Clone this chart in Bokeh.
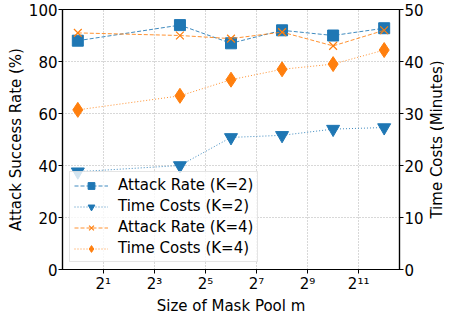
import math
from bokeh.plotting import figure
from bokeh.models import Range1d, LinearAxis, FixedTicker, Legend, LegendItem, Label
from bokeh.embed import file_html
from bokeh.resources import INLINE

# ---- data ----
pool_sizes = [1, 16, 64, 256, 1024, 4096]
attack_k2 = [88.0, 94.0, 87.0, 92.0, 90.0, 92.8]
time_k2 = [18.8, 20.0, 25.4, 25.8, 27.0, 27.3]
attack_k4 = [91.0, 90.0, 88.8, 91.3, 86.0, 92.0]
time_k4 = [30.7, 33.4, 36.5, 38.5, 39.5, 42.2]
x_ticks = [2, 8, 32, 128, 512, 2048]
x_tick_labels = ["2¹", "2³", "2⁵", "2⁷", "2⁹", "2¹¹"]
left_ticks = [0, 20, 40, 60, 80, 100]
right_ticks = [0, 10, 20, 30, 40, 50]
right_title = "Time Costs (Minutes)"

BLUE = "#1f77b4"
ORANGE = "#ff7f0e"
FONT = "DejaVu Sans"
FS = "15px"

FW, FH = 337, 260
p = figure(frame_width=FW, frame_height=FH, x_axis_type="log",
           x_range=Range1d(2 ** -0.6, 2 ** 12.6), y_range=Range1d(0, 100),
           output_backend="svg", toolbar_location=None,
           min_border_left=62, min_border_right=42, min_border_top=9, min_border_bottom=48)
p.extra_y_ranges = {"time": Range1d(0, 50)}

p.outline_line_color = "black"
p.outline_line_width = 1.2
p.background_fill_color = "white"
p.border_fill_color = "white"

# axes
p.xaxis.ticker = FixedTicker(ticks=x_ticks, minor_ticks=[])
p.xaxis.major_label_overrides = {t: l for t, l in zip(x_ticks, x_tick_labels)}
p.yaxis.ticker = FixedTicker(ticks=left_ticks, minor_ticks=[])
right_axis = LinearAxis(y_range_name="time", ticker=FixedTicker(ticks=right_ticks, minor_ticks=[]))
p.add_layout(right_axis, "right")

p.xaxis.axis_label = "Size of Mask Pool m"
p.yaxis[0].axis_label = "Attack Success Rate (%)"

for ax in [p.xaxis[0], p.yaxis[0], right_axis]:
    ax.axis_line_color = "black"
    ax.axis_line_width = 1.2
    ax.major_tick_line_color = "black"
    ax.major_tick_out = 4
    ax.major_tick_in = 0
    ax.minor_tick_line_color = None
    ax.major_label_text_font = FONT
    ax.major_label_text_font_size = FS
    ax.major_label_text_color = "black"
    ax.axis_label_text_font = FONT
    ax.axis_label_text_font_size = FS
    ax.axis_label_text_font_style = "normal"
    ax.axis_label_text_color = "black"
    ax.major_label_standoff = 1
    ax.axis_label_standoff = 1

# right axis title, reading bottom-to-top like the reference (placed in a side panel)
p.add_layout(Label(x=1, y=FH / 2, x_units="screen", y_units="screen",
                   text=right_title, angle=math.pi / 2, text_align="center",
                   text_baseline="top", text_font=FONT, text_font_size=FS,
                   text_color="black"), "right")

p.xgrid.ticker = FixedTicker(ticks=x_ticks)
p.ygrid.ticker = FixedTicker(ticks=left_ticks)
for g in [p.xgrid[0], p.ygrid[0]]:
    g.grid_line_color = "#b0b0b0"
    g.grid_line_dash = "1 2"
    g.grid_line_width = 1

# series
l1 = p.line(pool_sizes, attack_k2, color=BLUE, line_dash="4 2", line_width=1, line_alpha=0.85)
s1 = p.scatter(pool_sizes, attack_k2, marker="square", size=11, color=BLUE)
l2 = p.line(pool_sizes, time_k2, color=BLUE, line_dash="1 2", line_width=1, line_alpha=0.85, y_range_name="time")
s2 = p.scatter(pool_sizes, time_k2, marker="inverted_triangle", size=13, color=BLUE, y_range_name="time")
l3 = p.line(pool_sizes, attack_k4, color=ORANGE, line_dash="4 2", line_width=1, line_alpha=0.85)
s3 = p.scatter(pool_sizes, attack_k4, marker="x", size=11, line_color=ORANGE, line_width=1.2)
l4 = p.line(pool_sizes, time_k4, color=ORANGE, line_dash="1 2", line_width=1, line_alpha=0.85, y_range_name="time")
s4 = p.scatter(pool_sizes, time_k4, marker="diamond", size=15, color=ORANGE, y_range_name="time")

legend = Legend(items=[
    LegendItem(label="Attack Rate (K=2)", renderers=[l1, s1]),
    LegendItem(label="Time Costs (K=2)", renderers=[l2, s2]),
    LegendItem(label="Attack Rate (K=4)", renderers=[l3, s3]),
    LegendItem(label="Time Costs (K=4)", renderers=[l4, s4]),
], location="bottom_left")
legend.label_text_font = FONT
legend.label_text_font_size = FS
legend.label_text_color = "black"
legend.glyph_width = 34
legend.glyph_height = 17
legend.label_height = 17
legend.label_standoff = 10
legend.spacing = 3
legend.padding = 4
legend.margin = 7
legend.border_line_color = "#cccccc"
legend.background_fill_alpha = 0.8
p.add_layout(legend)

open("out.html", "w").write(file_html(p, INLINE))
